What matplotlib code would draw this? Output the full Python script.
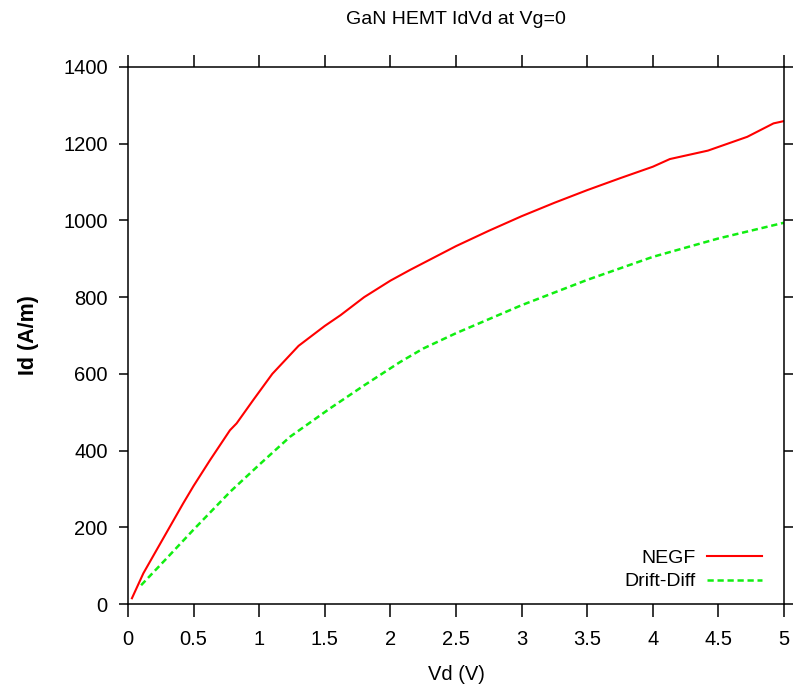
import matplotlib
matplotlib.use("Agg")
import matplotlib.pyplot as plt

# 数据: Id-Vd 曲线
negf_vd = [0.03, 0.117, 0.2, 0.35, 0.42, 0.5, 0.625, 0.777, 0.828, 0.955, 1.1, 1.3, 1.5, 1.62, 1.8,
           2.0, 2.15, 2.5, 2.75, 3.0, 3.25, 3.5, 3.75, 4.0, 4.13, 4.42, 4.72, 4.92, 5.0]
negf_id = [15, 80, 130, 220, 262, 308, 375, 453, 471, 532, 600, 673, 725, 753, 800,
           843, 871, 933, 973, 1011, 1046, 1079, 1110, 1140, 1160, 1182, 1218, 1253, 1259]

dd_vd = [0.1, 0.3, 0.5, 0.78, 1.0, 1.235, 1.54, 1.8, 2.07, 2.25, 2.5, 3.0, 3.5, 4.0, 4.5, 5.0]
dd_id = [49, 121, 194, 293, 363, 436, 510, 570, 630, 666, 706, 779, 845, 905, 953, 994]

x_ticks = [0, 0.5, 1, 1.5, 2, 2.5, 3, 3.5, 4, 4.5, 5]
x_tick_labels = ["0", "0.5", "1", "1.5", "2", "2.5", "3", "3.5", "4", "4.5", "5"]
y_ticks = [0, 200, 400, 600, 800, 1000, 1200, 1400]

plt.rcParams["font.family"] = ["Liberation Sans", "DejaVu Sans"]

fig = plt.figure(figsize=(7.98, 6.89), dpi=100)
ax = fig.add_axes([128 / 798, 1 - 604 / 689, 656 / 798, 537 / 689])

ax.plot(negf_vd, negf_id, color="#ff0000", lw=1.5, label="NEGF")
ax.plot(dd_vd, dd_id, color="#11ee11", lw=1.8, ls=(0, (2.5, 1.5)), label="Drift-Diff")

ax.set_xlim(0, 5)
ax.set_ylim(0, 1400)
ax.set_xticks(x_ticks)
ax.set_xticklabels(x_tick_labels)
ax.set_yticks(y_ticks)
ax.tick_params(direction="out", width=1.1, labelsize=14.5, top=True, right=True)
ax.tick_params(axis="x", length=9, pad=10)
ax.tick_params(axis="y", length=6.5, pad=8)
for s in ax.spines.values():
    s.set_linewidth(1.1)

ax.set_title("GaN HEMT IdVd at Vg=0", fontsize=14, pad=31)
ax.set_xlabel("Vd (V)", fontsize=14.5)
ax.xaxis.set_label_coords(0.5, -0.113)
ax.set_ylabel("Id (A/m)", fontsize=15.5, fontweight="bold")
ax.yaxis.set_label_coords(-0.135, 0.5)

ax.legend(loc="lower right", bbox_to_anchor=(0.987, 0.0), frameon=False,
          markerfirst=False, fontsize=14, handlelength=2.8, handletextpad=0.6,
          labelspacing=0.3, borderaxespad=0.3)

fig.savefig("out.png", dpi=100)
